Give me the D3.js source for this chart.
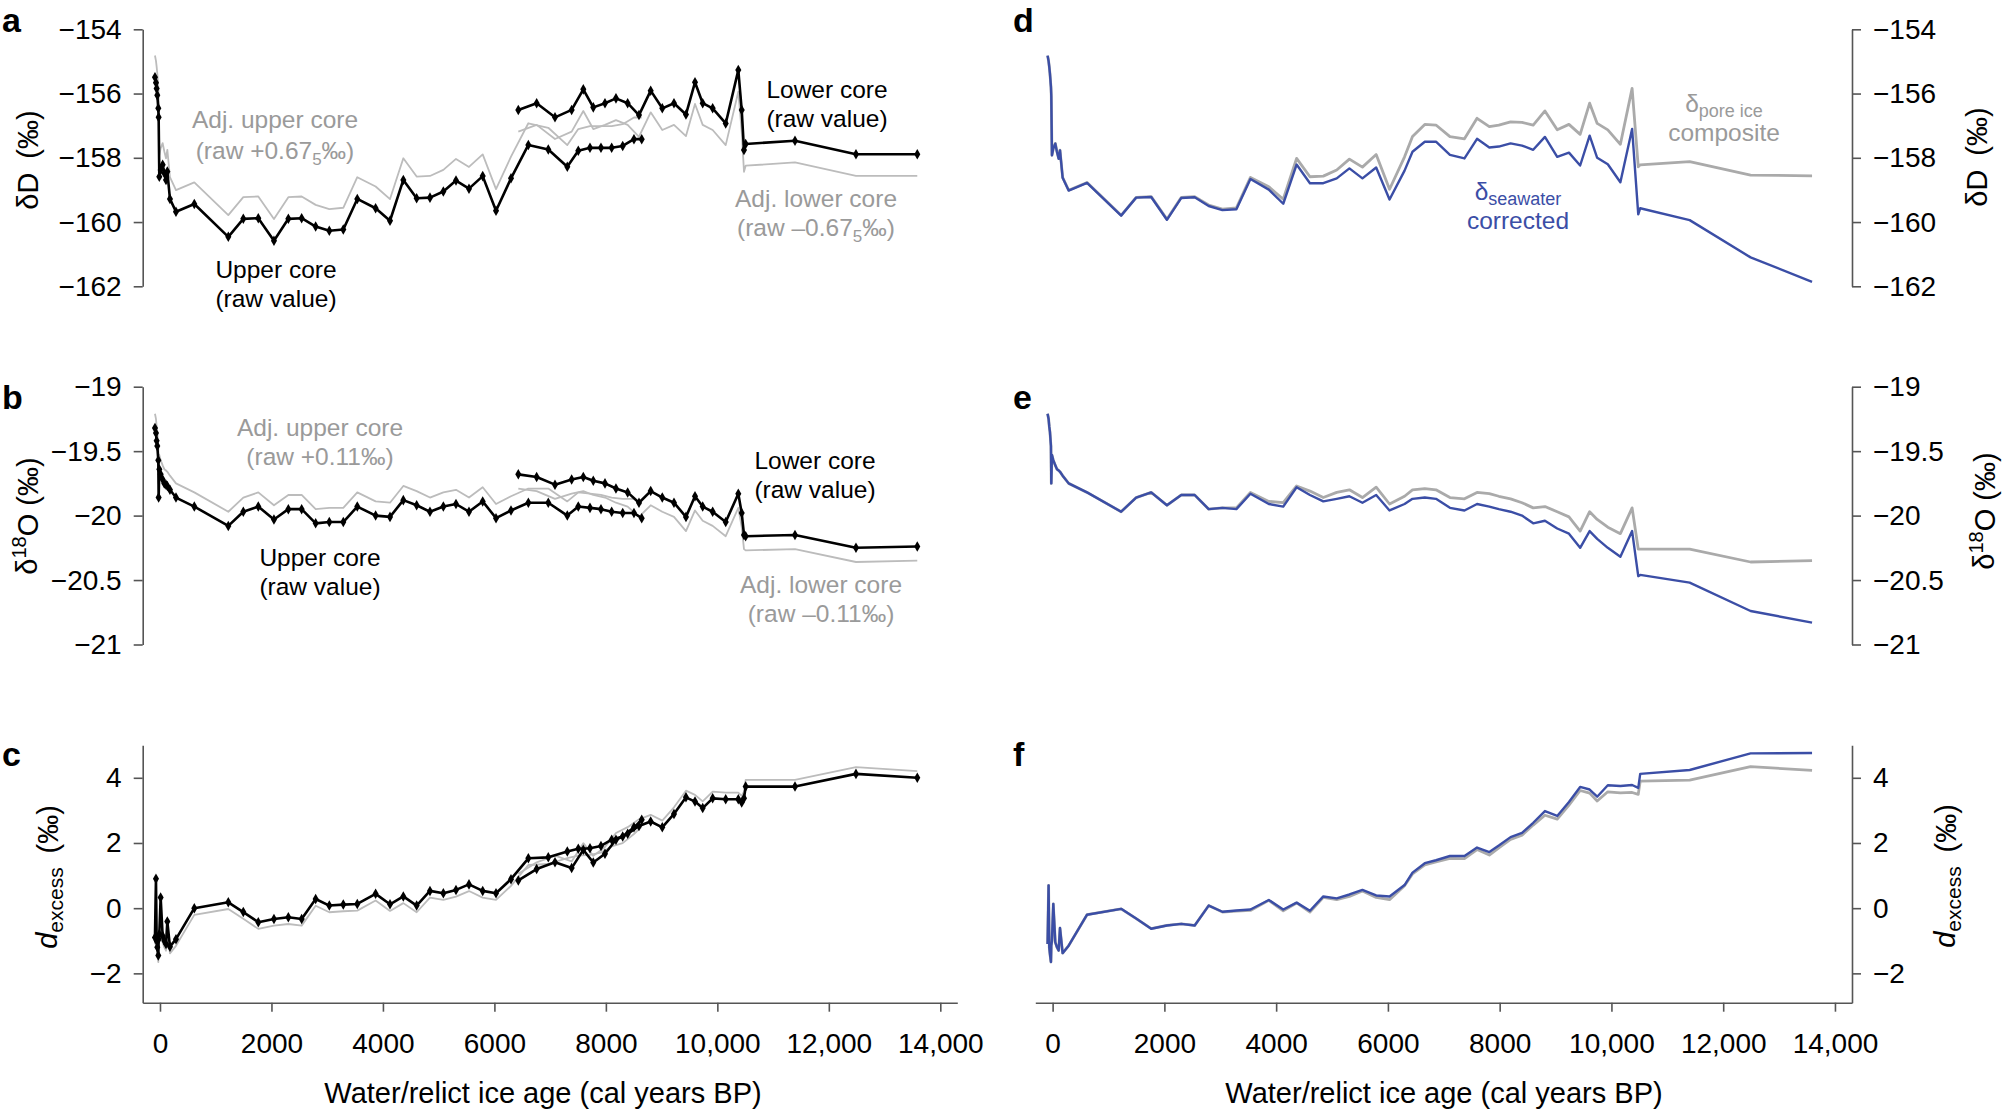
<!DOCTYPE html>
<html><head><meta charset="utf-8">
<script src="https://cdn.jsdelivr.net/npm/d3@7"></script>
<style>
body{margin:0;background:#fff;}
text{font-family:"Liberation Sans",Arial,Helvetica,sans-serif;}
</style>
</head><body>
<svg id="chart" width="2004" height="1112"></svg>
<script>
// ---------------- DATA ----------------
// Upper core (raw values)
const upperAge = [-90,-72,-60,-48,-30,-24,-12,12,48,78,108,132,179,287,616,1226,1495,1764,2045,2303,2542,2793,3038,3289,3540,3869,4127,4366,4605,4844,5084,5311,5544,5790,6029,6298,6609,6967,7308,7505,7715,7912,8104,8302,8504,8643];
const upperD = [-155.49,-155.66,-155.84,-156.05,-156.46,-156.74,-158.59,-158.38,-158.22,-158.48,-158.69,-158.43,-159.28,-159.68,-159.44,-160.46,-159.90,-159.88,-160.58,-159.90,-159.88,-160.14,-160.27,-160.23,-159.28,-159.57,-159.96,-158.69,-159.26,-159.24,-159.05,-158.71,-158.96,-158.57,-159.65,-158.64,-157.60,-157.74,-158.28,-157.78,-157.69,-157.69,-157.69,-157.63,-157.42,-157.42];
const upperO = [-19.32,-19.36,-19.42,-19.46,-19.57,-19.86,-19.64,-19.68,-19.72,-19.75,-19.76,-19.77,-19.80,-19.86,-19.93,-20.08,-19.97,-19.93,-20.03,-19.95,-19.95,-20.06,-20.05,-20.05,-19.93,-20.00,-20.01,-19.88,-19.92,-19.97,-19.93,-19.91,-19.97,-19.89,-20.02,-19.96,-19.90,-19.90,-20.00,-19.93,-19.94,-19.95,-19.97,-19.98,-19.98,-20.02];
const upperDex = [-0.9,0.9,-1.0,-1.2,-1.45,-0.95,-0.8,0.33,-0.85,-1.0,-1.1,-0.41,-1.18,-0.95,0.0,0.18,-0.12,-0.43,-0.33,-0.28,-0.33,0.28,0.08,0.11,0.13,0.44,0.12,0.36,0.08,0.53,0.46,0.56,0.73,0.53,0.46,0.89,1.53,1.56,1.74,1.82,1.84,1.91,2.10,2.20,2.48,2.71];

// Lower core (raw values)
const lowerAge = [6429,6758,7087,7386,7595,7774,7984,8181,8391,8594,8804,9012,9222,9437,9599,9737,9916,10150,10376,10437,10478,10508,11393,12487,13587];
const lowerD = [-156.51,-156.30,-156.74,-156.51,-155.87,-156.43,-156.30,-156.15,-156.30,-156.67,-155.91,-156.46,-156.30,-156.65,-155.65,-156.30,-156.46,-156.93,-155.27,-156.51,-157.76,-157.57,-157.47,-157.89,-157.89];
const lowerO = [-19.68,-19.70,-19.76,-19.72,-19.70,-19.73,-19.75,-19.79,-19.82,-19.90,-19.81,-19.86,-19.90,-20.01,-19.85,-19.93,-19.97,-20.05,-19.83,-19.98,-20.15,-20.16,-20.15,-20.25,-20.24];
const lowerDex = [0.85,1.20,1.41,1.23,1.79,1.40,1.67,2.10,2.28,2.52,2.66,2.48,2.89,3.40,3.27,3.07,3.37,3.34,3.34,3.24,3.37,3.73,3.73,4.12,4.00];

// Offsets stated on the chart (adjusted cores)
const offsetD = 0.675, offsetO = 0.11, offsetDex = -0.205;

// Composite pore ice and seawater-corrected series (panels d-f)
const compAge = [-90,-72,-60,-48,-30,-24,-12,12,48,78,108,132,179,287,616,1226,1495,1764,2045,2303,2542,2793,3038,3289,3540,3869,4127,4366,4605,4844,5084,5311,5544,5790,6029,6298,6440,6660,6860,7110,7370,7595,7815,7985,8195,8400,8600,8810,9030,9240,9440,9610,9745,9935,10160,10370,10480,10515,11400,12490,13590];
const compD = [-154.82,-154.99,-155.17,-155.38,-155.79,-156.07,-157.92,-157.71,-157.55,-157.81,-158.02,-157.76,-158.61,-159.01,-158.77,-159.79,-159.23,-159.21,-159.91,-159.23,-159.21,-159.47,-159.60,-159.56,-158.61,-158.90,-159.29,-158.02,-158.59,-158.57,-158.38,-158.04,-158.29,-157.90,-158.98,-157.97,
  -157.34,-156.96,-156.98,-157.34,-157.41,-156.77,-157.03,-156.98,-156.88,-156.90,-156.98,-156.54,-157.13,-156.96,-157.27,-156.30,-156.93,-157.13,-157.58,-155.84,-158.28,-158.22,-158.12,-158.54,-158.56];
const seaD = [-154.82,-154.99,-155.17,-155.38,-155.79,-156.07,-157.92,-157.71,-157.56,-157.82,-158.03,-157.77,-158.62,-159.02,-158.78,-159.80,-159.24,-159.22,-159.93,-159.25,-159.23,-159.50,-159.63,-159.60,-158.66,-158.99,-159.43,-158.21,-158.79,-158.79,-158.64,-158.33,-158.64,-158.30,-159.30,-158.40,
  -157.81,-157.50,-157.50,-157.91,-158.02,-157.41,-157.68,-157.65,-157.55,-157.62,-157.75,-157.35,-157.97,-157.84,-158.24,-157.31,-158.00,-158.20,-158.76,-157.10,-159.76,-159.57,-159.94,-161.10,-161.86];
const compO = [-19.21,-19.25,-19.31,-19.35,-19.46,-19.75,-19.53,-19.57,-19.61,-19.64,-19.65,-19.66,-19.69,-19.75,-19.82,-19.97,-19.86,-19.82,-19.92,-19.84,-19.84,-19.95,-19.94,-19.94,-19.82,-19.89,-19.90,-19.77,-19.81,-19.86,-19.82,-19.80,-19.86,-19.78,-19.91,-19.85,
  -19.80,-19.79,-19.80,-19.86,-19.87,-19.82,-19.83,-19.85,-19.87,-19.90,-19.94,-19.93,-19.97,-20.01,-20.12,-19.97,-20.03,-20.09,-20.14,-19.94,-20.26,-20.26,-20.26,-20.36,-20.35];
const seaO = [-19.21,-19.25,-19.31,-19.35,-19.46,-19.75,-19.53,-19.57,-19.61,-19.64,-19.65,-19.66,-19.69,-19.75,-19.82,-19.97,-19.86,-19.82,-19.92,-19.84,-19.84,-19.95,-19.94,-19.95,-19.83,-19.91,-19.93,-19.78,-19.84,-19.89,-19.87,-19.85,-19.90,-19.84,-19.96,-19.91,
  -19.87,-19.86,-19.87,-19.94,-19.96,-19.91,-19.93,-19.95,-19.97,-20.00,-20.06,-20.04,-20.10,-20.14,-20.25,-20.12,-20.18,-20.25,-20.32,-20.12,-20.47,-20.46,-20.52,-20.74,-20.83];
const compDex = [-1.10,0.70,-1.20,-1.40,-1.65,-1.15,-1.00,0.13,-1.05,-1.20,-1.30,-0.61,-1.38,-1.15,-0.20,-0.02,-0.32,-0.63,-0.53,-0.48,-0.53,0.08,-0.12,-0.09,-0.07,0.24,-0.08,0.16,-0.12,0.33,0.26,0.36,0.53,0.33,0.26,0.69,
  1.05,1.33,1.42,1.53,1.52,1.80,1.63,1.85,2.11,2.24,2.55,2.85,2.73,3.16,3.61,3.53,3.29,3.57,3.54,3.55,3.49,3.90,3.93,4.34,4.23];
const seaDex = [-1.10,0.70,-1.20,-1.40,-1.65,-1.15,-1.00,0.13,-1.05,-1.20,-1.30,-0.61,-1.38,-1.15,-0.20,-0.02,-0.32,-0.63,-0.53,-0.48,-0.53,0.08,-0.11,-0.07,-0.04,0.25,-0.04,0.17,-0.08,0.36,0.30,0.42,0.56,0.39,0.36,0.71,
  1.09,1.38,1.47,1.60,1.60,1.86,1.72,1.92,2.18,2.31,2.62,2.98,2.83,3.26,3.72,3.64,3.42,3.77,3.75,3.78,3.69,4.12,4.24,4.75,4.76];

// Tick values
const ageTicks = [0,2000,4000,6000,8000,10000,12000,14000];
const dTicks = [-154,-156,-158,-160,-162];
const oTicks = [-19,-19.5,-20,-20.5,-21];
const dexTicks = [-2,0,2,4];

// ---------------- STYLE / LAYOUT ----------------
const BLUE = "#3b4ea6", GREY_LINE = "#bcbcbc", GREY_COMP = "#aaaaaa", GREY_TEXT = "#9a9a9a", AXIS = "#555";
const TICK_FONT = 28, ANN_FONT = 24.5;
const svg = d3.select("#chart");

const ageDomain = [-310, 14305];
const xL = d3.scaleLinear().domain(ageDomain).range([142.7, 957.3]);
const xR = d3.scaleLinear().domain(ageDomain).range([1035.3, 1852]);
const yD = d3.scaleLinear().domain([-162, -154]).range([286.3, 29.3]);
const yO = d3.scaleLinear().domain([-21, -19]).range([644.5, 386.7]);
const yX = d3.scaleLinear().domain([-2.9, 5.0]).range([1002.7, 745.2]);

const minus = v => (v < 0 ? "\u2212" : "") + Math.abs(v);
const ageFmt = v => v >= 10000 ? d3.format(",")(v) : String(v);

function styleAxis(g){
  g.selectAll(".domain").attr("stroke", AXIS).attr("stroke-width", 1.6);
  g.selectAll(".tick line").attr("stroke", AXIS).attr("stroke-width", 1.6);
  g.selectAll(".tick text").attr("fill", "#000").style("font-size", TICK_FONT + "px")
    .style("font-family", '"Liberation Sans", Arial, Helvetica, sans-serif');
}
function yAxis(scale, ticks, side, xpos){
  const ax = (side === "left" ? d3.axisLeft(scale) : d3.axisRight(scale))
    .tickValues(ticks).tickFormat(minus).tickSize(9).tickSizeOuter(0).tickPadding(12);
  const g = svg.append("g").attr("transform", `translate(${xpos},0)`).call(ax);
  styleAxis(g);
}
function xAxis(scale, ypos){
  const ax = d3.axisBottom(scale).tickValues(ageTicks).tickFormat(ageFmt).tickSize(9).tickSizeOuter(0).tickPadding(21);
  const g = svg.append("g").attr("transform", `translate(0,${ypos})`).call(ax);
  styleAxis(g);
}

function series(x, y, ages, vals, color, width, markers){
  const pts = ages.map((a, i) => [x(a), y(vals[i])]);
  svg.append("path").attr("d", d3.line()(pts)).attr("fill", "none")
    .attr("stroke", color).attr("stroke-width", width).attr("stroke-linejoin", "round");
  if (markers){
    svg.append("g").selectAll("path").data(pts).join("path")
      .attr("transform", d => `translate(${d[0]},${d[1]})`)
      .attr("d", d3.symbol(d3.symbolDiamond, 32)())
      .attr("fill", color);
  }
}

function label(x, y, parts, opts){
  const t = svg.append("text").attr("x", x).attr("y", y)
    .attr("text-anchor", opts.anchor || "middle")
    .attr("fill", opts.color || "#000")
    .style("font-size", (opts.size || ANN_FONT) + "px")
    .style("font-weight", opts.weight || "normal");
  if (opts.rotate) t.attr("transform", `rotate(-90,${x},${y})`);
  parts.forEach(p => {
    const ts = t.append("tspan").text(p.t);
    if (p.size) ts.style("font-size", p.size + "px");
    if (p.dy) ts.attr("dy", p.dy);
    if (p.italic) ts.style("font-style", "italic");
  });
  return t;
}

// ---------------- PANEL a ----------------
series(xL, yD, upperAge, upperD.map(v => v + offsetD), GREY_LINE, 1.8, false);
series(xL, yD, lowerAge, lowerD.map(v => v - offsetD), GREY_LINE, 1.8, false);
series(xL, yD, upperAge, upperD, "#000", 2.6, true);
series(xL, yD, lowerAge, lowerD, "#000", 2.6, true);
yAxis(yD, dTicks, "left", 142.7);

// ---------------- PANEL b ----------------
series(xL, yO, upperAge, upperO.map(v => v + offsetO), GREY_LINE, 1.8, false);
series(xL, yO, lowerAge, lowerO.map(v => v - offsetO), GREY_LINE, 1.8, false);
series(xL, yO, upperAge, upperO, "#000", 2.6, true);
series(xL, yO, lowerAge, lowerO, "#000", 2.6, true);
yAxis(yO, oTicks, "left", 142.7);

// ---------------- PANEL c ----------------
series(xL, yX, upperAge, upperDex.map(v => v + offsetDex), GREY_LINE, 1.8, false);
series(xL, yX, lowerAge, lowerDex.map(v => v - offsetDex), GREY_LINE, 1.8, false);
series(xL, yX, upperAge, upperDex, "#000", 2.6, true);
series(xL, yX, lowerAge, lowerDex, "#000", 2.6, true);
yAxis(yX, dexTicks, "left", 142.7);
xAxis(xL, 1002.7);

// ---------------- PANELS d, e, f ----------------
series(xR, yD, compAge, compD, GREY_COMP, 2.8, false);
series(xR, yD, compAge, seaD, BLUE, 2.4, false);
yAxis(yD, dTicks, "right", 1852);

series(xR, yO, compAge, compO, GREY_COMP, 2.8, false);
series(xR, yO, compAge, seaO, BLUE, 2.4, false);
yAxis(yO, oTicks, "right", 1852);

series(xR, yX, compAge, compDex, GREY_COMP, 2.8, false);
series(xR, yX, compAge, seaDex, BLUE, 2.4, false);
yAxis(yX, dexTicks, "right", 1852);
xAxis(xR, 1002.7);

// ---------------- TEXT ----------------
// panel letters
[["a",2,32],["b",2,409],["c",2,766],["d",1013,32],["e",1013,409],["f",1013,766]].forEach(([s,x,y]) =>
  label(x, y, [{t:s}], {anchor:"start", size:34, weight:"bold"}));

// x titles
label(543, 1103, [{t:"Water/relict ice age (cal years BP)"}], {size:29});
label(1444, 1103, [{t:"Water/relict ice age (cal years BP)"}], {size:29});

// y titles (left)
label(38, 160, [{t:"\u03B4D\u2009 (\u2030)"}], {size:29, rotate:true});
label(37, 516, [{t:"\u03B4"},{t:"18", size:20, dy:"-0.55em"},{t:"O (\u2030)", dy:"0.4em"}], {size:29, rotate:true});
label(57, 877, [{t:"d", italic:true},{t:"excess", size:21, dy:"0.3em"},{t:"\u2009 (\u2030)", dy:"-0.2em"}], {size:29, rotate:true});
// y titles (right)
label(1987, 157, [{t:"\u03B4D\u2009 (\u2030)"}], {size:29, rotate:true});
label(1994, 511, [{t:"\u03B4"},{t:"18", size:20, dy:"-0.55em"},{t:"O (\u2030)", dy:"0.4em"}], {size:29, rotate:true});
label(1955, 876, [{t:"d", italic:true},{t:"excess", size:21, dy:"0.3em"},{t:"\u2009 (\u2030)", dy:"-0.2em"}], {size:29, rotate:true});

// panel a annotations
label(275, 128, [{t:"Adj. upper core"}], {color:GREY_TEXT});
label(275, 159, [{t:"(raw +0.67"},{t:"5", size:17, dy:"6"},{t:"\u2030)", dy:"-6"}], {color:GREY_TEXT});
label(276, 278, [{t:"Upper core"}], {});
label(276, 307, [{t:"(raw value)"}], {});
label(827, 98, [{t:"Lower core"}], {});
label(827, 127, [{t:"(raw value)"}], {});
label(816, 207, [{t:"Adj. lower core"}], {color:GREY_TEXT});
label(816, 236, [{t:"(raw \u20130.67"},{t:"5", size:17, dy:"6"},{t:"\u2030)", dy:"-6"}], {color:GREY_TEXT});

// panel b annotations
label(320, 436, [{t:"Adj. upper core"}], {color:GREY_TEXT});
label(320, 465, [{t:"(raw +0.11\u2030)"}], {color:GREY_TEXT});
label(320, 566, [{t:"Upper core"}], {});
label(320, 595, [{t:"(raw value)"}], {});
label(815, 469, [{t:"Lower core"}], {});
label(815, 498, [{t:"(raw value)"}], {});
label(821, 593, [{t:"Adj. lower core"}], {color:GREY_TEXT});
label(821, 622, [{t:"(raw \u20130.11\u2030)"}], {color:GREY_TEXT});

// panel d annotations
label(1724, 112, [{t:"\u03B4"},{t:"pore ice", size:18, dy:"5"}], {color:GREY_TEXT});
label(1724, 141, [{t:"composite"}], {color:GREY_TEXT});
label(1518, 200, [{t:"\u03B4"},{t:"seawater", size:18, dy:"5"}], {color:BLUE});
label(1518, 229, [{t:"corrected"}], {color:BLUE});
</script>
</body></html>
